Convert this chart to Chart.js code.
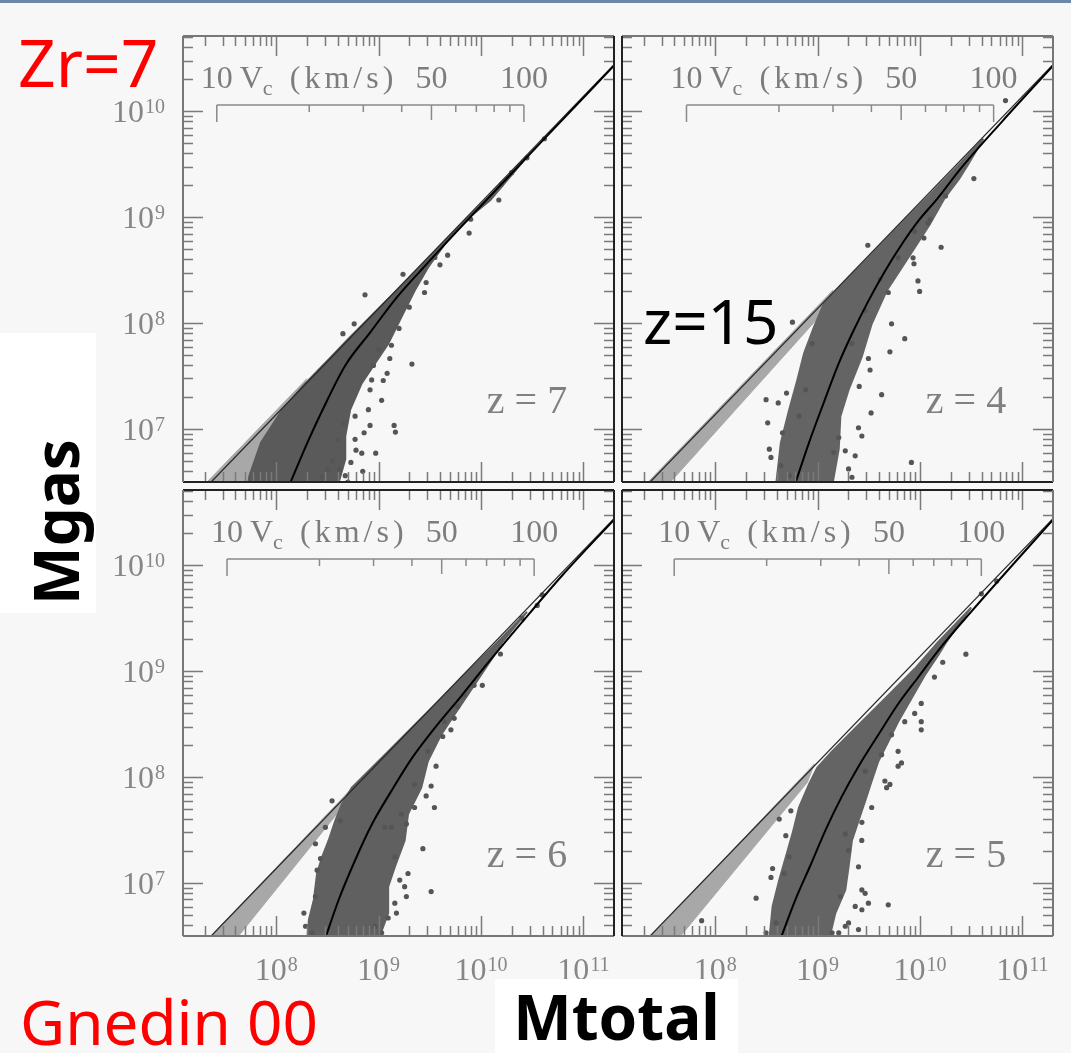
<!DOCTYPE html>
<html>
<head>
<meta charset="utf-8">
<script src="https://cdn.jsdelivr.net/npm/chart.js@4.4.1/dist/chart.umd.min.js"></script>
<style>
  body { margin: 0; background: #f7f7f7; }
  #page { position: relative; width: 1071px; height: 1053px; overflow: hidden; background: #f7f7f7; }
  #page canvas { position: absolute; }
  .topbar { position: absolute; left: 0; top: 0; width: 1071px; height: 3px; background: #6d88a6; }
  .note { position: absolute; font-family: 'Noto Sans', sans-serif; line-height: 1; white-space: nowrap; }
  .red { color: #ff0000; }
  .box { position: absolute; background: #fff; }
</style>
</head>
<body>
<div id="page">
  <div class="topbar"></div>
  <canvas id="c0" width="618" height="486" style="left:0;top:0"></canvas>
  <canvas id="c1" width="453" height="486" style="left:618px;top:0"></canvas>
  <canvas id="c2" width="618" height="567" style="left:0;top:486px"></canvas>
  <canvas id="c3" width="453" height="567" style="left:618px;top:486px"></canvas>

  <div class="note red" style="left:18px;top:28px;font-size:66px">Zr=7</div>
  <div class="note red" style="left:20px;top:990px;font-size:62px">Gnedin 00</div>
  <div class="note" style="left:643px;top:289px;font-size:62px;color:#000">z=15</div>
  <div class="box" style="left:0;top:333px;width:96px;height:280px"></div>
  <div class="note" style="left:55px;top:522px;font-size:62px;font-weight:bold;color:#000;transform:translate(-50%,-50%) rotate(-90deg)">Mgas</div>
  <div class="box" style="left:495px;top:979px;width:243px;height:74px;text-align:center">
    <span class="note" style="position:static;font-size:62px;font-weight:bold;line-height:74px;color:#000">Mtotal</span>
  </div>
</div>

<script>
// Axis limits (log10) and labelled ticks
const massRange = [7.09, 11.3];
const gasRange = [6.5, 10.71];
const massTicks = [1e8, 1e9, 1e10, 1e11];
const gasTicks = [1e7, 1e8, 1e9, 1e10];

// Circular velocity scale drawn inside each panel
const vcTicks = [10, 20, 30, 40, 50, 60, 70, 80, 90, 100];
const vcLabels = [10, 50, 100];
const vc10Mass = [7.42, 7.72, 7.52, 7.60];   // log10 Mtotal where Vc = 10 km/s

const redshifts = ['z = 7', 'z = 4', 'z = 6', 'z = 5'];

// All points below are [log10 Mtotal, log10 Mgas]
const baryonLine = [[7.09, 6.225], [11.3, 10.44]];

const curveZ7 = [[8.12, 6.45], [8.3, 6.86], [8.448, 7.17], [8.675, 7.6], [8.917, 7.91], [9.159, 8.22],
  [9.416, 8.5], [9.74, 8.84], [10.16, 9.27], [10.6, 9.72], [11.3, 10.43]];
const curveZ4 = [[8.77, 6.45], [8.916, 6.87], [9.061, 7.25], [9.207, 7.62], [9.352, 7.93], [9.497, 8.21],
  [9.658, 8.49], [9.82, 8.74], [9.981, 8.96], [10.175, 9.18], [10.4, 9.46], [10.8, 9.9], [11.3, 10.43]];
const curveZ6 = [[8.47, 6.45], [8.61, 6.84], [8.771, 7.215], [8.933, 7.55], [9.126, 7.87], [9.32, 8.17],
  [9.546, 8.46], [9.804, 8.76], [10.062, 9.07], [10.4, 9.46], [10.8, 9.91], [11.3, 10.43]];
const curveZ5 = [[8.63, 6.45], [8.787, 6.85], [8.932, 7.17], [9.078, 7.5], [9.239, 7.82], [9.4, 8.1],
  [9.594, 8.4], [9.787, 8.69], [9.981, 8.94], [10.175, 9.19], [10.5, 9.56], [11.3, 10.43]];

// outline of the dense dark cloud of haloes
const cloudZ7 = [[10.45, 9.57], [10.062, 9.177], [9.74, 8.866], [9.417, 8.539], [9.062, 8.196], [8.707, 7.853],
  [8.513, 7.657], [8.287, 7.433], [8.061, 7.183], [7.852, 6.872], [7.739, 6.56], [7.723, 6.46], [8.6, 6.46],
  [8.675, 6.716], [8.675, 6.934], [8.723, 7.183], [8.836, 7.433], [8.965, 7.619], [9.094, 7.806], [9.223, 8.056],
  [9.352, 8.305], [9.481, 8.523], [9.643, 8.741], [9.836, 8.959], [10.09, 9.16], [10.45, 9.57]];
const cloudZ4 = [[10.62, 9.74], [10.375, 9.489], [10.249, 9.364], [10.062, 9.177], [9.81, 8.928], [9.655, 8.772],
  [9.342, 8.461], [9.184, 8.305], [9.061, 8.18], [8.965, 7.962], [8.868, 7.713], [8.803, 7.464], [8.723, 7.183],
  [8.642, 6.872], [8.594, 6.46], [9.142, 6.46], [9.207, 6.81], [9.223, 7.121], [9.303, 7.37], [9.432, 7.682],
  [9.529, 7.993], [9.675, 8.305], [9.884, 8.616], [10.094, 8.928], [10.239, 9.177], [10.384, 9.364],
  [10.465, 9.489], [10.62, 9.74]];
const cloudZ6 = [[10.45, 9.56], [10.159, 9.271], [9.901, 9.022], [9.61, 8.741], [9.352, 8.492], [9.094, 8.243],
  [8.868, 8.025], [8.739, 7.9], [8.642, 7.745], [8.578, 7.589], [8.513, 7.402], [8.449, 7.246], [8.4, 7.09],
  [8.368, 6.841], [8.32, 6.654], [8.304, 6.46], [8.997, 6.46], [9.094, 6.716], [9.094, 6.966], [9.159, 7.153],
  [9.255, 7.402], [9.288, 7.651], [9.417, 7.9], [9.481, 8.15], [9.61, 8.399], [9.739, 8.586], [9.869, 8.773],
  [9.998, 8.959], [10.127, 9.146], [10.207, 9.271], [10.45, 9.56]];
const cloudZ5 = [[10.5, 9.6], [10.175, 9.271], [9.949, 9.022], [9.658, 8.741], [9.4, 8.492], [9.142, 8.243],
  [8.997, 8.087], [8.916, 7.931], [8.819, 7.713], [8.755, 7.464], [8.69, 7.246], [8.626, 7.028], [8.561, 6.779],
  [8.529, 6.46], [9.11, 6.46], [9.174, 6.716], [9.271, 6.935], [9.303, 7.153], [9.336, 7.402], [9.4, 7.589],
  [9.465, 7.776], [9.529, 7.963], [9.594, 8.15], [9.691, 8.336], [9.787, 8.523], [9.917, 8.741], [10.046, 8.959],
  [10.175, 9.146], [10.255, 9.271], [10.5, 9.6]];

// outline of the light grey haloes hugging the baryon line
const lightZ7 = [[7.3, 6.475], [8.3, 7.475], [8.1, 7.15], [7.85, 6.475]];
const lightZ4 = [[7.33, 6.485], [9.15, 8.31], [9.1, 8.15], [7.55, 6.485]];
const lightZ6 = [[7.35, 6.485], [8.72, 7.875], [8.65, 7.72], [7.62, 6.485]];
const lightZ5 = [[7.36, 6.485], [8.97, 8.125], [8.9, 7.95], [7.65, 6.485]];

// isolated dark haloes
const dotsZ7 = [[8.868, 8.267], [8.652, 7.9], [8.762, 7.993], [9.326, 7.613], [9.084, 7.526], [9.03, 7.271],
  [9.152, 7.034], [9.165, 6.971], [8.917, 7.034], [8.859, 6.965], [8.836, 6.772], [8.972, 6.772], [8.73, 6.685],
  [8.846, 6.601], [9.126, 7.791], [9.11, 7.666], [9.465, 8.383], [9.449, 8.289], [9.675, 8.641], [9.885, 8.85],
  [10.175, 9.162], [8.933, 7.464], [8.917, 7.37], [9.046, 7.458], [8.771, 7.121], [8.771, 6.903], [8.901, 7.183],
  [8.675, 6.56], [9.239, 8.461], [10.3, 9.42], [10.45, 9.56], [10.62, 9.74], [10.2, 9.31], [9.9, 8.98],
  [9.55, 8.62], [8.7, 6.5], [8.62, 6.62], [8.78, 6.8], [8.55, 6.7], [8.6, 6.9], [8.66, 7.05], [8.95, 7.6],
  [9.0, 7.75], [9.2, 7.95], [9.3, 8.15], [9.6, 8.55], [8.45, 6.55], [8.5, 6.62]];
const dotsZ4 = [[9.491, 8.735], [10.207, 8.716], [10.039, 8.803], [10.078, 8.944], [9.933, 8.616], [9.942, 8.56],
  [9.981, 8.398], [9.997, 8.299], [9.691, 8.289], [9.723, 7.993], [9.852, 7.853], [9.707, 7.729], [9.497, 7.666],
  [9.513, 7.557], [9.626, 7.324], [9.523, 7.152], [9.407, 7.402], [8.497, 7.277], [8.616, 7.246], [8.697, 7.339],
  [8.513, 7.059], [8.755, 8.009], [8.948, 7.807], [9.917, 6.685], [9.158, 6.778], [9.271, 6.794], [9.336, 6.545],
  [9.4, 7.012], [9.433, 6.934], [8.529, 6.81], [10.527, 9.364], [10.836, 10.1], [10.25, 9.2], [10.1, 8.98],
  [8.545, 6.732], [8.642, 6.654], [8.723, 6.56], [9.303, 6.623], [9.368, 6.747], [9.207, 6.919], [9.336, 7.807],
  [9.465, 8.118], [9.61, 8.414], [9.787, 8.616], [9.949, 8.866], [8.884, 7.37], [8.819, 7.121], [8.658, 6.965]];
const dotsZ6 = [[10.191, 9.162], [9.933, 8.866], [10.014, 8.866], [9.836, 8.773], [9.772, 8.664], [9.643, 8.523],
  [9.707, 8.446], [9.627, 8.383], [9.562, 8.103], [9.514, 7.916], [9.465, 7.822], [9.546, 7.713], [9.352, 7.713],
  [9.272, 7.558], [9.433, 7.324], [9.159, 7.246], [9.288, 7.09], [9.207, 7.028], [9.255, 6.966], [9.272, 6.872],
  [9.159, 6.81], [9.175, 6.716], [9.094, 6.67], [9.514, 6.919], [8.384, 7.371], [8.433, 7.231], [8.4, 7.121],
  [8.384, 6.872], [8.271, 6.716], [8.626, 7.589], [9.062, 7.526], [9.223, 7.651], [10.4, 9.5], [10.6, 9.72],
  [10.55, 9.62], [8.287, 6.592], [8.352, 6.53], [9.03, 6.53], [8.965, 6.592], [9.126, 7.526], [9.352, 7.931],
  [9.481, 8.243], [9.739, 8.555], [8.481, 7.526], [8.546, 7.776]];
const dotsZ5 = [[10.449, 9.16], [10.223, 9.084], [10.142, 8.944], [10.013, 8.695], [9.949, 8.601], [10.013, 8.523],
  [9.852, 8.523], [10.013, 8.446], [9.723, 8.399], [9.626, 8.212], [9.82, 8.134], [9.787, 8.103], [9.707, 7.931],
  [9.675, 7.9], [9.465, 8.056], [9.433, 7.573], [9.271, 7.464], [9.303, 7.308], [9.4, 7.153], [9.433, 6.935],
  [9.465, 6.903], [9.497, 6.81], [9.368, 6.779], [9.433, 6.748], [9.691, 6.794], [9.223, 6.872], [9.271, 6.592],
  [9.142, 6.53], [8.4, 6.857], [8.545, 7.053], [8.561, 7.137], [8.69, 7.447], [8.626, 7.604], [8.739, 7.682],
  [7.868, 6.645], [9.4, 6.561], [10.6, 9.73], [10.75, 9.85], [8.497, 6.53], [8.594, 6.623], [9.207, 6.53],
  [9.303, 6.623], [9.432, 7.402], [9.529, 7.713], [9.658, 7.963], [8.723, 7.246], [8.674, 7.09], [9.787, 8.243]];

const curves = [curveZ7, curveZ4, curveZ6, curveZ5];
const clouds = [cloudZ7, cloudZ4, cloudZ6, cloudZ5];
const lights = [lightZ7, lightZ4, lightZ6, lightZ5];
const dots = [dotsZ7, dotsZ4, dotsZ6, dotsZ5];

const panels = [
  { canvas: 'c0', showX: false, showY: true, inner: ['right', 'bottom'], pad: { top: 36, right: 0, bottom: 0, left: 0 }, cloudColor: '#5a5a5a' },
  { canvas: 'c1', showX: false, showY: false, inner: ['left', 'bottom'], pad: { top: 36, right: 18, bottom: 0, left: 0 }, cloudColor: '#646464' },
  { canvas: 'c2', showX: true, showY: true, inner: ['right', 'top'], pad: { top: 0, right: 0, bottom: 0, left: 0 }, cloudColor: '#606060' },
  { canvas: 'c3', showX: true, showY: false, inner: ['left', 'top'], pad: { top: 0, right: 18, bottom: 0, left: 0 }, cloudColor: '#646464' },
];

const LABEL_FONT = '32px "Liberation Serif"';
const EXP_FONT = '20px "Liberation Serif"';
const toXY = pts => pts.map(([m, g]) => ({ x: 10 ** m, y: 10 ** g }));

// keep the plot frame exactly where the panel sits
function fixBox(s, size) {
  if (s.isHorizontal()) s.height = size; else s.width = size;
  s.paddingTop = 0; s.paddingBottom = 0; s.paddingLeft = 0; s.paddingRight = 0;
}

// "10" with a raised exponent, like the TeX labels of the original
function drawPower(ctx, v, px, baseline, align) {
  const exp = String(Math.round(Math.log10(v)));
  ctx.font = LABEL_FONT;
  const wMain = ctx.measureText('10').width;
  ctx.font = EXP_FONT;
  const wExp = ctx.measureText(exp).width;
  const total = wMain + 1 + wExp;
  const left = align === 'right' ? px - total : px - total / 2;
  ctx.textAlign = 'left';
  ctx.textBaseline = 'alphabetic';
  ctx.font = LABEL_FONT;
  ctx.fillText('10', left, baseline);
  ctx.font = EXP_FONT;
  ctx.fillText(exp, left + wMain + 1, baseline - 9);
}

// frame, inward ticks, tick labels, Vc scale and redshift label
const panelDecor = {
  id: 'panelDecor',
  afterDatasetsDraw(chart, args, opts) {
    const { ctx, chartArea: a, scales: { x, y } } = chart;
    ctx.save();

    ctx.strokeStyle = '#7a7a7a';
    ctx.lineWidth = 1.5;
    ctx.beginPath();
    for (let e = 6; e <= 11; e++) {
      for (let k = 1; k <= 9; k++) {
        const v = k * 10 ** e;
        const len = k === 1 ? 20 : 10;
        if (v >= x.min && v <= x.max) {
          const px = Math.round(x.getPixelForValue(v)) + 0.5;
          ctx.moveTo(px, a.top); ctx.lineTo(px, a.top + len);
          ctx.moveTo(px, a.bottom); ctx.lineTo(px, a.bottom - len);
        }
        if (v >= y.min && v <= y.max) {
          const py = Math.round(y.getPixelForValue(v)) + 0.5;
          ctx.moveTo(a.left, py); ctx.lineTo(a.left + len, py);
          ctx.moveTo(a.right, py); ctx.lineTo(a.right - len, py);
        }
      }
    }
    ctx.stroke();

    const sides = {
      top: [a.left, a.top, a.right, a.top],
      bottom: [a.left, a.bottom, a.right, a.bottom],
      left: [a.left, a.top, a.left, a.bottom],
      right: [a.right, a.top, a.right, a.bottom],
    };
    ctx.lineWidth = 2;
    for (const [name, [x1, y1, x2, y2]] of Object.entries(sides)) {
      ctx.strokeStyle = opts.inner.includes(name) ? '#222' : '#777';
      ctx.beginPath(); ctx.moveTo(x1, y1); ctx.lineTo(x2, y2); ctx.stroke();
    }

    ctx.fillStyle = '#868686';
    if (opts.showY) gasTicks.forEach(v => drawPower(ctx, v, a.left - 18, y.getPixelForValue(v) + 11, 'right'));
    if (opts.showX) massTicks.forEach(v => drawPower(ctx, v, x.getPixelForValue(v), a.bottom + 44, 'center'));

    // Vc bracket: Vc goes as Mtotal^(1/3)
    const vx = vc => x.getPixelForValue(10 ** (opts.vc10 + 3 * Math.log10(vc / 10)));
    const by = a.top + 69;
    ctx.strokeStyle = '#8a8a8a';
    ctx.lineWidth = 1.5;
    ctx.beginPath();
    ctx.moveTo(vx(10), by); ctx.lineTo(vx(100), by);
    vcTicks.forEach(v => {
      const len = (v === 10 || v === 100) ? 17 : (v === 50 ? 15 : 7);
      ctx.moveTo(vx(v), by); ctx.lineTo(vx(v), by + len);
    });
    ctx.stroke();

    const ty = a.top + 52;
    ctx.fillStyle = '#7d7d7d';
    ctx.textBaseline = 'alphabetic';
    ctx.font = LABEL_FONT;
    ctx.textAlign = 'center';
    vcLabels.forEach(v => ctx.fillText(String(v), vx(v), ty));
    ctx.textAlign = 'left';
    ctx.fillText('V', vx(10) + 23, ty);
    ctx.font = '22px "Liberation Serif"';
    ctx.fillText('c', vx(10) + 46, ty + 7);
    ctx.font = LABEL_FONT;
    if ('letterSpacing' in ctx) ctx.letterSpacing = '4px';
    ctx.fillText('(km/s)', vx(10) + 73, ty);
    if ('letterSpacing' in ctx) ctx.letterSpacing = '0px';

    ctx.font = '40px "Liberation Serif"';
    ctx.fillStyle = '#808080';
    ctx.textAlign = 'center';
    ctx.fillText(opts.label, a.right - 87, a.top + 377);

    ctx.restore();
  }
};

function makeChart(p, i) {
  return new Chart(document.getElementById(p.canvas), {
    type: 'scatter',
    data: {
      datasets: [
        { type: 'line', data: toXY(curves[i]), borderColor: '#000', borderWidth: 2, pointRadius: 0,
          fill: false, cubicInterpolationMode: 'monotone' },
        { type: 'line', data: toXY(baryonLine), borderColor: '#2a2a2a', borderWidth: 1.3, pointRadius: 0, fill: false },
        { data: toXY(dots[i]), backgroundColor: '#555', borderWidth: 0, pointRadius: 2.6 },
        { type: 'line', data: toXY(clouds[i]), borderColor: p.cloudColor, backgroundColor: p.cloudColor,
          borderWidth: 2, pointRadius: 0, fill: 'shape' },
        { type: 'line', data: toXY(lights[i]), borderColor: '#a8a8a8', backgroundColor: '#a8a8a8',
          borderWidth: 1, pointRadius: 0, fill: 'shape' },
      ]
    },
    options: {
      responsive: false,
      animation: false,
      events: [],
      layout: { padding: p.pad },
      plugins: {
        legend: { display: false },
        tooltip: { enabled: false },
        panelDecor: { inner: p.inner, vc10: vc10Mass[i], label: redshifts[i], showX: p.showX, showY: p.showY },
      },
      scales: {
        x: {
          type: 'logarithmic',
          min: 10 ** massRange[0],
          max: 10 ** massRange[1],
          display: p.showX,
          afterBuildTicks: s => { s.ticks = massTicks.map(v => ({ value: v })); },
          afterFit: s => fixBox(s, p.showX ? 117 : 0),
          grid: { display: false, drawTicks: false },
          border: { display: false },
          ticks: { display: false },
        },
        y: {
          type: 'logarithmic',
          min: 10 ** gasRange[0],
          max: 10 ** gasRange[1],
          display: p.showY,
          afterBuildTicks: s => { s.ticks = gasTicks.map(v => ({ value: v })); },
          afterFit: s => fixBox(s, p.showY ? 183 : 0),
          grid: { display: false, drawTicks: false },
          border: { display: false },
          ticks: { display: false },
        }
      }
    },
    plugins: [panelDecor]
  });
}

panels.forEach(makeChart);
</script>
</body>
</html>
